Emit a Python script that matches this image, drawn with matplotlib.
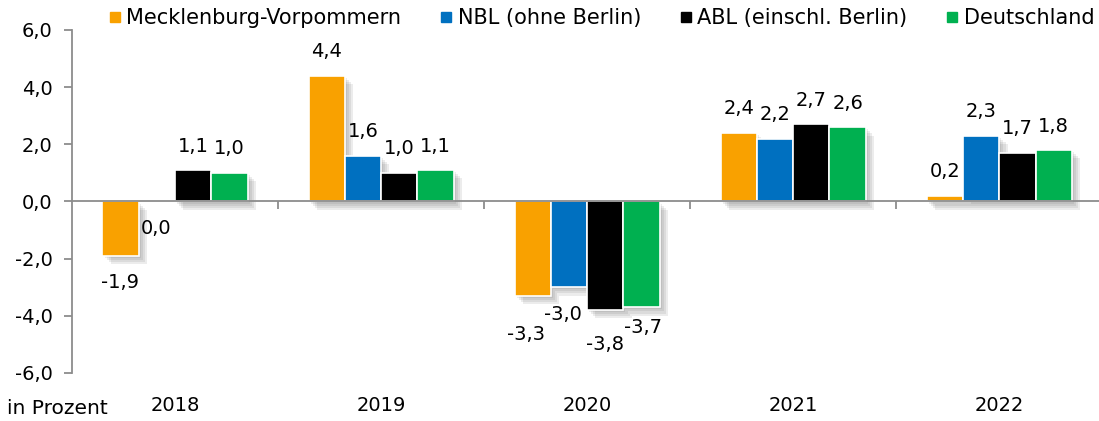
import numpy as np
import matplotlib
matplotlib.use('Agg')
import matplotlib.pyplot as plt
import matplotlib.patheffects as pe
from matplotlib.lines import Line2D

plt.rcParams['font.family'] = ['DejaVu Sans']

years = ['2018', '2019', '2020', '2021', '2022']
series = ['Mecklenburg-Vorpommern', 'NBL (ohne Berlin)', 'ABL (einschl. Berlin)', 'Deutschland']
mv = [-1.9, 4.4, -3.3, 2.4, 0.2]
nbl = [0.0, 1.6, -3.0, 2.2, 2.3]
abl = [1.1, 1.0, -3.8, 2.7, 1.7]
de = [1.0, 1.1, -3.7, 2.6, 1.8]
colors = ['#F9A100', '#0070C0', '#000000', '#00B050']

FS = 14

# label offsets in pixels for the crowded 2020 group (series index, year index)
nudge = {(0, 2): (-7, -39), (1, 2): (-6, -27), (2, 2): (0, -34), (3, 2): (1, -20)}


def fmt(v):
  return ('%.1f' % v).replace('.', ',')


fig = plt.figure(figsize=(10.99, 4.21), dpi=100)
ax = fig.add_axes([72 / 1099, 1 - 373 / 421, 1 - 72 / 1099 + 0.003, (373 - 30) / 421])

x = np.arange(len(years))
width = 0.176
shadow = [pe.SimplePatchShadow(offset=(o, -o), shadow_rgbFace='0.3', alpha=0.1) for o in (1.5, 3, 4.5, 6)]

for k, (vals, col) in enumerate(zip([mv, nbl, abl, de], colors)):
  pos = x + (k - 1.5) * width
  bars = ax.bar(pos, vals, width, color=col, edgecolor='white', linewidth=1.2, zorder=3)
  for b in bars:
    b.set_path_effects(shadow + [pe.Normal()])
  for i, (p, v) in enumerate(zip(pos, vals)):
    off = (0, 24) if v > 0 else (-1, -27)
    off = nudge.get((k, i), off)
    ax.annotate(fmt(v), (p, v), xytext=off, textcoords='offset pixels',
                ha='center', va='center', fontsize=FS, zorder=4)

ax.set_xlim(-0.5, len(years) - 0.5)
ax.set_ylim(-6, 6)
ax.set_yticks(np.arange(-6, 7, 2))
ax.set_yticklabels([fmt(t) for t in np.arange(-6, 7, 2)], fontsize=FS)

ax.spines['top'].set_visible(False)
ax.spines['right'].set_visible(False)
ax.spines['bottom'].set_position(('data', 0))
ax.spines['bottom'].set_zorder(5)
for s in ('left', 'bottom'):
  ax.spines[s].set_color('#8C8C8C')
  ax.spines[s].set_linewidth(1.3)

ax.set_xticks(np.arange(0.5, len(years) - 0.5, 1))
ax.set_xticklabels([])
ax.tick_params(axis='x', direction='out', length=6, color='#8C8C8C', width=1.3)
ax.tick_params(axis='y', direction='out', length=6, color='#8C8C8C', width=1.3, pad=8)

for i, y in enumerate(years):
  ax.text(i, -0.095, y, transform=ax.get_xaxis_transform(), ha='center', va='center', fontsize=FS)

fig.text(7 / 1099, 1 - 408 / 421, 'in Prozent', ha='left', va='center', fontsize=FS + 0.5)

handles = [Line2D([], [], marker='s', color=c, linestyle='none', markersize=7) for c in colors]
fig.legend(handles, series, loc='center', bbox_to_anchor=(602 / 1099, 1 - 18 / 421), ncol=4,
           frameon=False, fontsize=FS + 1, handlelength=0.5, handletextpad=0.3, columnspacing=1.9,
           borderaxespad=0)

fig.savefig('out.png', dpi=100)
